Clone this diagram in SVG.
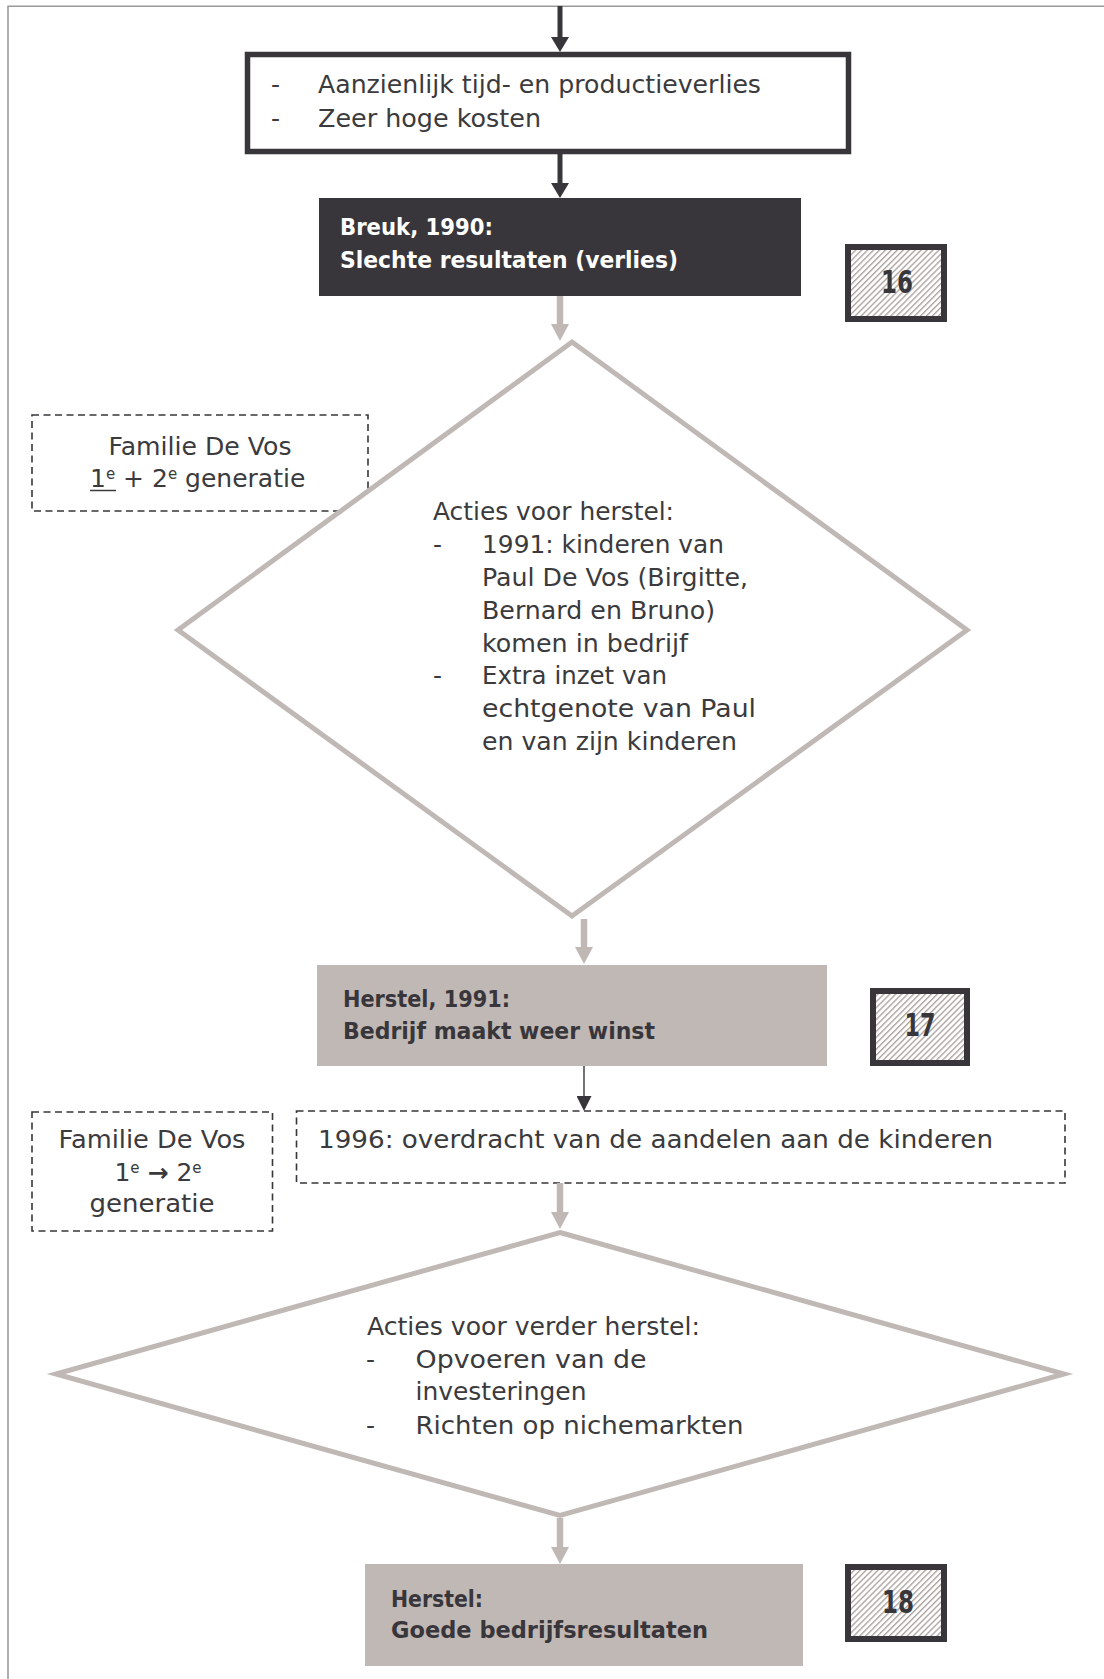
<svg xmlns="http://www.w3.org/2000/svg" width="1104" height="1679" viewBox="0 0 1104 1679">
  <style>
    .t { font-family: "DejaVu Sans", "Liberation Sans", sans-serif; font-size: 25px; fill: #3b3a3c; }
    .sup { font-size: 15px; }
    .b { font-family: "DejaVu Sans", "Liberation Sans", sans-serif; font-size: 23px; font-weight: bold; fill: #38363a; }
    .bw { fill: #ffffff; }
    .num { font-family: "DejaVu Sans", "Liberation Sans", sans-serif; font-size: 32px; font-weight: bold; fill: #38363a; text-anchor: middle; }
    .mid { text-anchor: middle; }
    .dash { fill: #ffffff; stroke: #38363a; stroke-width: 1.6; stroke-dasharray: 7 4.5; }
    .diam { fill: #ffffff; stroke: #c0b8b5; stroke-width: 5; }
    .tag { fill: url(#hatch); stroke: #38363a; stroke-width: 6; }
    .taupe { fill: #c0b8b5; }
    .dark { fill: #38363a; }
    .cg { stroke: #c0b8b5; stroke-width: 6.5; fill: none; }
    .cd { stroke: #38363a; stroke-width: 5; fill: none; }
    .cdt { stroke: #38363a; stroke-width: 1.4; fill: none; }
  </style>
  <defs>
    <pattern id="hatch" patternUnits="userSpaceOnUse" width="4.2" height="4.2" patternTransform="rotate(45)">
      <rect width="4.2" height="4.2" fill="#ffffff"/>
      <line x1="0.7" y1="0" x2="0.7" y2="4.2" stroke="#aea5a2" stroke-width="1.4"/>
    </pattern>
    <marker id="ahGray" markerUnits="userSpaceOnUse" viewBox="0 0 17 18" markerWidth="17" markerHeight="18" refX="0" refY="9" orient="auto">
      <path d="M0,0 L17,9 L0,18 Z" fill="#c0b8b5"/>
    </marker>
    <marker id="ahDark" markerUnits="userSpaceOnUse" viewBox="0 0 15 18" markerWidth="15" markerHeight="18" refX="0" refY="9" orient="auto">
      <path d="M0,0 L15,9 L0,18 Z" fill="#38363a"/>
    </marker>
    <marker id="ahThin" markerUnits="userSpaceOnUse" viewBox="0 0 15 15" markerWidth="15" markerHeight="15" refX="0" refY="7.5" orient="auto">
      <path d="M0,0 L15,7.5 L0,15 Z" fill="#38363a"/>
    </marker>
  </defs>

  <!-- page frame: top and left edges -->
  <g id="frame" stroke="#9a9a9a" stroke-width="1.6" fill="none">
    <line x1="7.5" y1="6.3" x2="1104" y2="6.3"/>
    <line x1="8" y1="6" x2="8" y2="1679"/>
  </g>

  <!-- family note, generations 1 + 2 (partly under the diamond) -->
  <g id="family-1">
    <rect class="dash" x="32" y="415" width="336" height="96"/>
    <text class="t mid" x="200" y="455" textLength="183" lengthAdjust="spacingAndGlyphs">Familie De Vos</text>
    <text class="t" x="90" y="487"><tspan>1</tspan><tspan class="sup" dy="-8">e</tspan><tspan dy="8"> + 2</tspan><tspan class="sup" dy="-8">e</tspan><tspan dy="8"> generatie</tspan></text>
    <line x1="90" y1="490.5" x2="116" y2="490.5" stroke="#3b3a3c" stroke-width="1.5"/>
  </g>

  <!-- losses -->
  <g id="losses">
    <rect x="247.5" y="54.5" width="601" height="97" fill="#ffffff" stroke="#38363a" stroke-width="5.5"/>
    <text class="t" x="271" y="93">-</text>
    <text class="t" x="318" y="93" textLength="443" lengthAdjust="spacingAndGlyphs">Aanzienlijk tijd- en productieverlies</text>
    <text class="t" x="271" y="127">-</text>
    <text class="t" x="318" y="127" textLength="223" lengthAdjust="spacingAndGlyphs">Zeer hoge kosten</text>
  </g>

  <!-- break, 1990 -->
  <g id="break-1990">
    <rect class="dark" x="319" y="198" width="482" height="98"/>
    <text class="b bw" x="340" y="235" textLength="153" lengthAdjust="spacingAndGlyphs">Breuk, 1990:</text>
    <text class="b bw" x="340" y="268" textLength="338" lengthAdjust="spacingAndGlyphs">Slechte resultaten (verlies)</text>
  </g>

  <g id="tag-16">
    <rect class="tag" x="848" y="247" width="96" height="72"/>
    <text class="num" x="897" y="293" textLength="32" lengthAdjust="spacingAndGlyphs">16</text>
  </g>

  <!-- recovery actions -->
  <g id="actions-1">
    <polygon class="diam" points="572,342 967,630 572,916 178,630"/>
    <text class="t" x="433" y="520" textLength="241" lengthAdjust="spacingAndGlyphs">Acties voor herstel:</text>
    <text class="t" x="433" y="553">-</text>
    <text class="t" x="482" y="553" textLength="242" lengthAdjust="spacingAndGlyphs">1991: kinderen van</text>
    <text class="t" x="482" y="586" textLength="266" lengthAdjust="spacingAndGlyphs">Paul De Vos (Birgitte,</text>
    <text class="t" x="482" y="619" textLength="233" lengthAdjust="spacingAndGlyphs">Bernard en Bruno)</text>
    <text class="t" x="482" y="652" textLength="206" lengthAdjust="spacingAndGlyphs">komen in bedrijf</text>
    <text class="t" x="433" y="684">-</text>
    <text class="t" x="482" y="684" textLength="185" lengthAdjust="spacingAndGlyphs">Extra inzet van</text>
    <text class="t" x="482" y="717" textLength="274" lengthAdjust="spacingAndGlyphs">echtgenote van Paul</text>
    <text class="t" x="482" y="750" textLength="255" lengthAdjust="spacingAndGlyphs">en van zijn kinderen</text>
  </g>

  <!-- recovery, 1991 -->
  <g id="recovery-1991">
    <rect class="taupe" x="317" y="965" width="510" height="101"/>
    <text class="b" x="343" y="1007" textLength="167" lengthAdjust="spacingAndGlyphs">Herstel, 1991:</text>
    <text class="b" x="343" y="1039" textLength="312" lengthAdjust="spacingAndGlyphs">Bedrijf maakt weer winst</text>
  </g>

  <g id="tag-17">
    <rect class="tag" x="873" y="991" width="94" height="72"/>
    <text class="num" x="920" y="1036" textLength="31" lengthAdjust="spacingAndGlyphs">17</text>
  </g>

  <!-- family note, generation 1 to 2 -->
  <g id="family-2">
    <rect class="dash" x="32" y="1112" width="240.5" height="119"/>
    <text class="t mid" x="152" y="1148" textLength="187" lengthAdjust="spacingAndGlyphs">Familie De Vos</text>
    <text class="t mid" x="158" y="1181"><tspan>1</tspan><tspan class="sup" dy="-8">e</tspan><tspan dy="8"> </tspan><tspan font-weight="bold">→</tspan><tspan> 2</tspan><tspan class="sup" dy="-8">e</tspan></text>
    <text class="t mid" x="152" y="1212" textLength="125" lengthAdjust="spacingAndGlyphs">generatie</text>
  </g>

  <!-- share transfer, 1996 -->
  <g id="transfer-1996">
    <rect class="dash" x="296.5" y="1111" width="768.5" height="72"/>
    <text class="t" x="318" y="1148" textLength="675" lengthAdjust="spacingAndGlyphs">1996: overdracht van de aandelen aan de kinderen</text>
  </g>

  <!-- further recovery actions -->
  <g id="actions-2">
    <polygon class="diam" points="560,1232.5 1064,1374 560,1515.5 56,1374"/>
    <text class="t" x="367" y="1335" textLength="333" lengthAdjust="spacingAndGlyphs">Acties voor verder herstel:</text>
    <text class="t" x="366" y="1368">-</text>
    <text class="t" x="415.5" y="1368" textLength="231" lengthAdjust="spacingAndGlyphs">Opvoeren van de</text>
    <text class="t" x="415.5" y="1400" textLength="171" lengthAdjust="spacingAndGlyphs">investeringen</text>
    <text class="t" x="366" y="1434">-</text>
    <text class="t" x="415.5" y="1434" textLength="328" lengthAdjust="spacingAndGlyphs">Richten op nichemarkten</text>
  </g>

  <!-- recovery -->
  <g id="recovery">
    <rect class="taupe" x="365" y="1564" width="438" height="102"/>
    <text class="b" x="391" y="1607" textLength="92" lengthAdjust="spacingAndGlyphs">Herstel:</text>
    <text class="b" x="391" y="1638" textLength="317" lengthAdjust="spacingAndGlyphs">Goede bedrijfsresultaten</text>
  </g>

  <g id="tag-18">
    <rect class="tag" x="848" y="1567" width="96" height="72"/>
    <text class="num" x="898" y="1613" textLength="32" lengthAdjust="spacingAndGlyphs">18</text>
  </g>

  <!-- connectors -->
  <g id="connectors">
    <line class="cd" x1="560" y1="6" x2="560" y2="37" marker-end="url(#ahDark)"/>
    <line class="cd" x1="560" y1="154" x2="560" y2="183" marker-end="url(#ahDark)"/>
    <line class="cg" x1="560" y1="296" x2="560" y2="324" marker-end="url(#ahGray)"/>
    <line class="cg" x1="584" y1="919" x2="584" y2="947" marker-end="url(#ahGray)"/>
    <line class="cdt" x1="584" y1="1066" x2="584" y2="1096" marker-end="url(#ahThin)"/>
    <line class="cg" x1="560" y1="1183" x2="560" y2="1212" marker-end="url(#ahGray)"/>
    <line class="cg" x1="560" y1="1518" x2="560" y2="1547" marker-end="url(#ahGray)"/>
  </g>
</svg>
